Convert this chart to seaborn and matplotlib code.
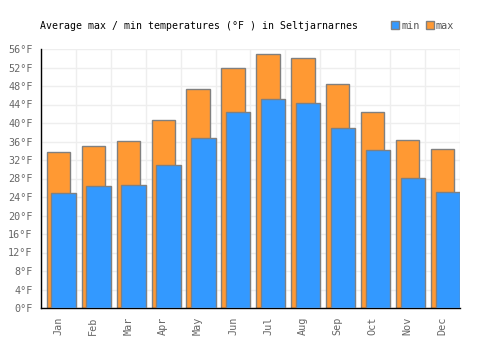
import numpy as np
import pandas as pd
import matplotlib
matplotlib.use("Agg")
import matplotlib.pyplot as plt
from matplotlib.patches import Patch
import seaborn as sns

months = ["Jan", "Feb", "Mar", "Apr", "May", "Jun",
          "Jul", "Aug", "Sep", "Oct", "Nov", "Dec"]
t_max = [33.7, 35.0, 36.1, 40.6, 47.4, 51.9, 54.9, 54.1, 48.4, 42.4, 36.3, 34.4]
t_min = [24.9, 26.4, 26.6, 30.9, 36.8, 42.4, 45.2, 44.3, 38.9, 34.2, 28.1, 25.1]
y_ticks = list(range(0, 57, 4))

BLUE = "#3399ff"
ORANGE = "#ff9933"
EDGE = "#808080"

df = pd.DataFrame({"month": months, "max": t_max, "min": t_min})

sns.set_style("white")
plt.rcParams["font.family"] = ["DejaVu Sans Mono"]

fig = plt.figure(figsize=(5, 3.5), dpi=100)
ax = fig.add_axes([0.082, 0.12, 0.838, 0.74])

# max bars behind, then min bars shifted right
sns.barplot(data=df, x="month", y="max", color=ORANGE, saturation=1,
            width=0.67, edgecolor=EDGE, linewidth=1, ax=ax, zorder=2)
n_max = len(ax.patches)
sns.barplot(data=df, x="month", y="min", color=BLUE, saturation=1,
            width=0.70, edgecolor=EDGE, linewidth=1, ax=ax, zorder=3)
for p in ax.patches[n_max:]:
    p.set_x(p.get_x() + 0.15)

ax.set_xlim(-0.5, 11.5)
ax.set_ylim(0, 56)
ax.set_yticks(y_ticks)
ax.set_yticklabels([f"{v}°F" for v in y_ticks])
ax.set_xticks(np.arange(-0.5, 12, 1), minor=True)
ax.grid(False)
ax.grid(True, which="minor", axis="x", color="#eeeeee", lw=1, zorder=0)
ax.grid(True, which="major", axis="y", color="#eeeeee", lw=1, zorder=0)
ax.set_axisbelow(True)

ax.tick_params(axis="both", which="both", length=0, labelsize=7.3,
               labelcolor="#666666")
ax.tick_params(axis="y", pad=6)
ax.tick_params(axis="x", pad=6)
plt.setp(ax.get_xticklabels(), rotation=90)
ax.set_xlabel("")
ax.set_ylabel("")

for s in ["top", "right"]:
    ax.spines[s].set_visible(False)
for s in ["left", "bottom"]:
    ax.spines[s].set_color("black")
    ax.spines[s].set_linewidth(1)

fig.text(0.08, 0.926, "Average max / min temperatures (°F ) in Seltjarnarnes",
         fontsize=7.15, color="black", va="center")

handles = [Patch(facecolor=BLUE, edgecolor=EDGE, lw=1, label="min"),
           Patch(facecolor=ORANGE, edgecolor=EDGE, lw=1, label="max")]
fig.legend(handles=handles, loc="center left", bbox_to_anchor=(0.782, 0.926),
           ncol=2, frameon=False, fontsize=7.3, labelcolor="#555555",
           handlelength=0.8, handleheight=0.8, handletextpad=0.2,
           columnspacing=0.6, borderpad=0, borderaxespad=0)

fig.savefig("out.png", dpi=100)
